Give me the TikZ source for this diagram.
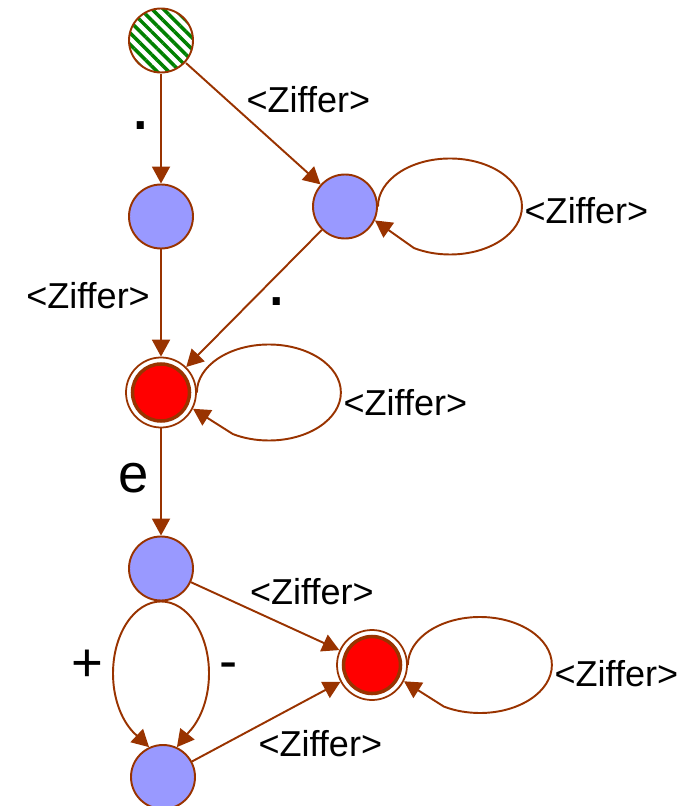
\documentclass[tikz,border=0pt]{standalone}
\usepackage{fontspec}
\setmainfont{Liberation Sans}
\usetikzlibrary{arrows.meta, positioning, patterns.meta}
\definecolor{edgebrown}{RGB}{153,51,0}
\definecolor{statefill}{RGB}{153,153,255}
\definecolor{hatchgreen}{RGB}{0,128,0}

\begin{document}
\begin{tikzpicture}[
        font=\fontsize{20.5}{24}\selectfont,
        node distance=3.52cm, on grid,
        plainstate/.style={circle, draw=edgebrown, line width=1.1pt, fill=statefill, minimum size=1.28cm, inner sep=0pt},
        startstate/.style={plainstate, fill=white, pattern={Lines[angle=-45, distance=4.6pt, line width=2pt]}, pattern color=hatchgreen},
        acceptstate/.style={plainstate, fill=white, minimum size=1.4cm, line width=1pt,
            path picture={\draw[edgebrown, fill=red, line width=2pt] (path picture bounding box.center) circle (0.57cm);}},
        arr/.style={-{Triangle[length=0.34cm, width=0.36cm]}, draw=edgebrown, line width=1.1pt},
        lbl/.style={inner sep=1pt},
        sym/.style={inner sep=1pt, font=\fontsize{31}{36}\selectfont},
        dotlbl/.style={inner sep=1pt, font=\fontsize{42}{48}\selectfont}
    ]
        \useasboundingbox (0,0) rectangle (13.9,-16.12);

        \node[startstate] (start) at (3.22,-0.81) {};
        \node[plainstate, below=of start] (dot) {};
        \node[plainstate, above right=0.2cm and 3.68cm of dot] (int) {};
        \node[acceptstate, below=of dot] (frac) {};
        \node[plainstate, below=of frac] (exp) {};
        \node[plainstate, below=4.17cm of exp, xshift=0.04cm] (sign) {};
        \node[acceptstate, below right=1.93cm and 4.22cm of exp] (expnum) {};

        \draw[arr] (start) -- node[dotlbl, left=0.14cm, pos=0.47]{.} (dot);
        \draw[arr] (start) -- node[lbl, above right, pos=0.43]{<Ziffer>} (int);
        \draw[arr] (dot)   -- node[lbl, left=0.17cm, pos=0.43]{<Ziffer>} (frac);
        \draw[arr] (int)   -- node[dotlbl, below right=0.08cm, pos=0.45]{.} (frac);
        \draw[arr] (frac)  -- node[sym, left=0.18cm, pos=0.46]{e} (exp);
        \draw[arr] (exp)   -- node[lbl, above right, pos=0.38]{<Ziffer>} (expnum);
        \draw[arr] (sign)  -- node[lbl, below right, pos=0.43]{<Ziffer>} (expnum);

        \draw[arr] (int.east) arc[start angle=180, end angle=0, x radius=1.44cm, y radius=0.96cm]
            node[lbl, right, yshift=-0.08cm]{<Ziffer>}
            arc[start angle=0, end angle=-120, x radius=1.44cm, y radius=0.96cm] -- (int.-25);
        \draw[arr] (frac.east) arc[start angle=180, end angle=0, x radius=1.44cm, y radius=0.96cm]
            node[lbl, right, yshift=-0.2cm]{<Ziffer>}
            arc[start angle=0, end angle=-120, x radius=1.44cm, y radius=0.96cm] -- (frac.-27);
        \draw[arr] (expnum.east) arc[start angle=180, end angle=0, x radius=1.44cm, y radius=0.96cm]
            node[lbl, right, yshift=-0.18cm]{<Ziffer>}
            arc[start angle=0, end angle=-120, x radius=1.44cm, y radius=0.96cm] -- (expnum.-27);

        \draw[arr] (exp.south) arc[start angle=90, end angle=180, x radius=0.96cm, y radius=1.44cm]
            node[sym, left=0.14cm, yshift=0.16cm]{+}
            arc[start angle=180, end angle=235, x radius=0.96cm, y radius=1.44cm] -- (sign.115);
        \draw[arr] (exp.south) arc[start angle=90, end angle=0, x radius=0.96cm, y radius=1.44cm]
            node[sym, right=0.16cm, yshift=0.05cm]{-}
            arc[start angle=0, end angle=-55, x radius=0.96cm, y radius=1.44cm] -- (sign.65);
    \end{tikzpicture}
\end{document}
